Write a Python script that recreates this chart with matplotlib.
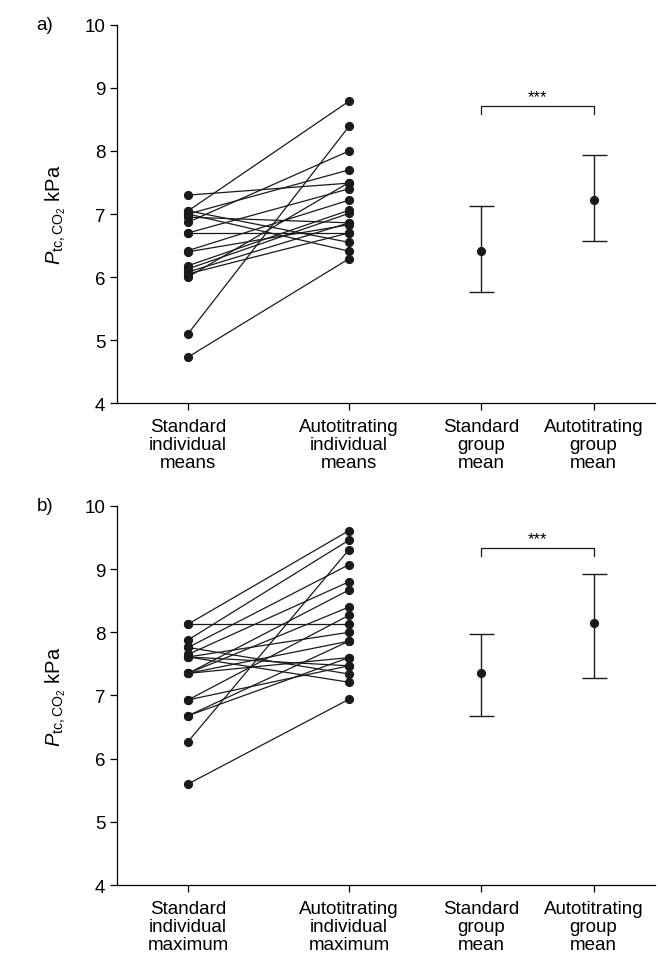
import matplotlib
matplotlib.use("Agg")
import matplotlib.pyplot as plt

plt.rcParams['font.family'] = ['Liberation Sans', 'DejaVu Sans']
plt.rcParams['mathtext.fontset'] = 'custom'
plt.rcParams['mathtext.rm'] = 'Liberation Sans'
plt.rcParams['mathtext.it'] = 'Liberation Sans:italic'

# panel a: individual means (standard -> autotitrating)
a_standard = [7.30, 7.05, 7.05, 7.00, 7.00, 6.95, 6.87, 6.70, 6.70,
              6.42, 6.40, 6.18, 6.13, 6.08, 6.05, 6.00, 5.10, 4.73]
a_auto = [7.49, 8.79, 6.55, 6.41, 7.70, 6.86, 8.00, 6.70, 7.40,
          7.22, 6.83, 7.06, 7.01, 6.86, 6.70, 7.50, 8.39, 6.29]
a_group_mean = [6.41, 7.22]
a_group_low = [5.76, 6.57]
a_group_high = [7.13, 7.94]

# panel b: individual maximum (standard -> autotitrating)
b_standard = [8.13, 8.13, 7.88, 7.76, 7.76, 7.65, 7.61, 7.61, 7.61,
              7.35, 7.35, 7.35, 7.35, 6.93, 6.93, 6.68, 6.68, 6.27, 5.60]
b_auto = [9.61, 8.13, 9.46, 9.07, 7.34, 8.80, 7.21, 8.00, 7.47,
          8.67, 8.40, 7.60, 7.86, 8.27, 7.47, 7.86, 7.60, 9.31, 6.94]
b_group_mean = [7.35, 8.15]
b_group_low = [6.67, 7.28]
b_group_high = [7.97, 8.93]

a_labels = ["Standard\nindividual\nmeans", "Autotitrating\nindividual\nmeans",
            "Standard\ngroup\nmean", "Autotitrating\ngroup\nmean"]
b_labels = ["Standard\nindividual\nmaximum", "Autotitrating\nindividual\nmaximum",
            "Standard\ngroup\nmean", "Autotitrating\ngroup\nmean"]

xpos = [0, 1, 1.82, 2.52]


def draw_panel(ax, left, right, gmean, glow, ghigh, labels, bracket_y, tag):
    for s, t in zip(left, right):
        ax.plot([xpos[0], xpos[1]], [s, t], color='#1a1a1a', lw=0.9,
                marker='o', ms=5.6, mfc='#1a1a1a', mec='#1a1a1a', zorder=3)

    for i in range(2):
        m = gmean[i]
        ax.errorbar(xpos[2 + i], m, yerr=[[m - glow[i]], [ghigh[i] - m]],
                    fmt='o', color='#1a1a1a', ms=5.6, lw=1.0, capsize=9,
                    capthick=1.0)

    # significance bracket
    ax.plot([xpos[2], xpos[2], xpos[3], xpos[3]],
            [bracket_y - 0.12, bracket_y, bracket_y, bracket_y - 0.12],
            color='#1a1a1a', lw=0.9)
    ax.text((xpos[2] + xpos[3]) / 2, bracket_y + 0.04, "***",
            ha='center', va='bottom', fontsize=12)

    ax.set_xlim(-0.441, 2.90)
    ax.set_ylim(4, 10)
    ax.set_yticks(range(4, 11))
    ax.set_xticks(xpos)
    ax.set_xticklabels(labels, linespacing=1.05)
    ax.tick_params(labelsize=13.5, direction='out', length=5, width=0.9)
    ax.tick_params(axis='x', pad=6)
    for sp in ['top', 'right']:
        ax.spines[sp].set_visible(False)
    for sp in ['left', 'bottom']:
        ax.spines[sp].set_linewidth(0.9)
    ax.set_ylabel(r"$\mathit{P}_{\mathrm{tc,CO_2}}$ kPa", fontsize=14.5, labelpad=12)
    ax.text(-0.15, 1.0, tag, transform=ax.transAxes, fontsize=13.5,
            ha='left', va='center')


fig = plt.figure(figsize=(6.58, 9.62), dpi=100)
ax_a = fig.add_axes([0.178, 0.58, 0.817, 0.393])
ax_b = fig.add_axes([0.178, 0.079, 0.817, 0.394])

draw_panel(ax_a, a_standard, a_auto, a_group_mean, a_group_low, a_group_high,
           a_labels, 8.71, "a)")
draw_panel(ax_b, b_standard, b_auto, b_group_mean, b_group_low, b_group_high,
           b_labels, 9.33, "b)")

fig.savefig("out.png", dpi=100)
